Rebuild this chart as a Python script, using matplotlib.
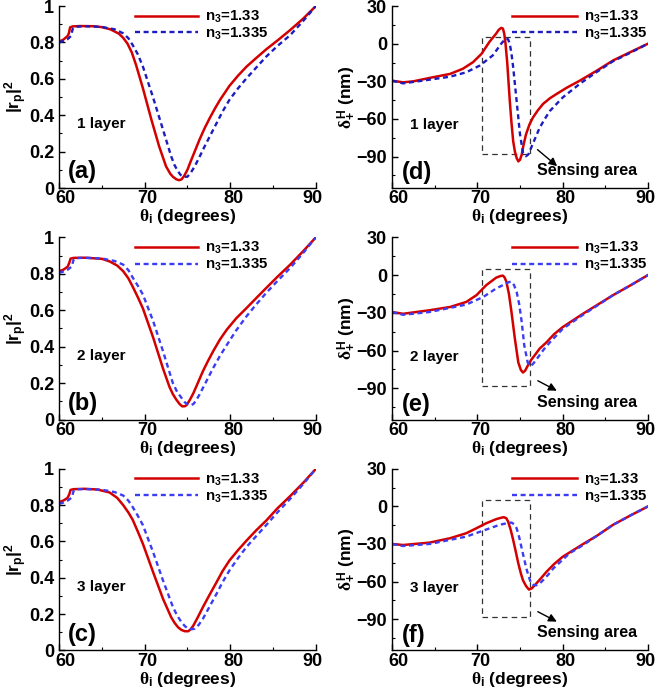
import matplotlib
matplotlib.use("Agg")
import matplotlib.pyplot as plt
from matplotlib.patches import Rectangle
from matplotlib.ticker import MultipleLocator, FuncFormatter
from matplotlib.transforms import ScaledTranslation

plt.rcParams['font.family'] = ['Liberation Sans', 'DejaVu Sans']
plt.rcParams['font.weight'] = 'bold'
plt.rcParams['mathtext.fontset'] = 'custom'
plt.rcParams['mathtext.rm'] = 'Liberation Sans:bold'
plt.rcParams['mathtext.bf'] = 'Liberation Sans:bold'
plt.rcParams['mathtext.it'] = 'Liberation Serif'
plt.rcParams['lines.scale_dashes'] = False

# ---------------- data ----------------
# Reflectivity |r_p|^2, n3 = 1.33 (red) and n3 = 1.335 (blue)
a_red_x = [60, 60.5, 61.0, 61.15, 61.3, 61.6, 62.5, 64, 65, 66, 67, 67.5, 68, 68.5, 69, 69.8, 70.8,
           71.7, 72.5, 73.0, 73.3, 73.7, 74.0, 74.3, 74.6, 75.0, 75.3, 75.8, 76.4, 77.0, 77.6, 78.2,
           78.8, 79.9, 80.9, 81.9, 83.0, 84.2, 85.5, 87.0, 88.5, 90]
a_red_y = [0.804, 0.815, 0.835, 0.85, 0.883, 0.888, 0.89, 0.889, 0.884, 0.872, 0.848, 0.825, 0.793,
           0.745, 0.676, 0.548, 0.374, 0.228, 0.119, 0.078, 0.062, 0.048, 0.043, 0.047, 0.065, 0.10,
           0.137, 0.195, 0.265, 0.328, 0.384, 0.436, 0.484, 0.561, 0.617, 0.667, 0.713, 0.762, 0.81,
           0.868, 0.93, 1.0]
a_blue_x = [60, 60.5, 61.0, 61.4, 61.6, 61.9, 63, 65, 66.5, 67.5, 68.1, 68.6, 69.2, 69.8, 70.95,
            72.15, 73.1, 73.5, 73.9, 74.2, 74.5, 75.0, 75.4, 75.85, 76.4, 77.0, 77.7, 78.4, 79.1,
            79.9, 80.9, 81.9, 83.0, 84.2, 85.5, 87.0, 88.5, 90]
a_blue_y = [0.800, 0.808, 0.818, 0.835, 0.875, 0.886, 0.889, 0.885, 0.872, 0.85, 0.823, 0.786, 0.735,
            0.667, 0.503, 0.32, 0.174, 0.125, 0.091, 0.072, 0.062, 0.062, 0.085, 0.119, 0.17, 0.228,
            0.292, 0.356, 0.42, 0.484, 0.547, 0.603, 0.66, 0.722, 0.78, 0.84, 0.917, 1.0]

b_red_x = [60, 60.5, 61.0, 61.2, 61.35, 61.7, 63, 65, 65.9, 66.8, 67.5, 68.1, 68.6, 69.2, 69.8,
           71.0, 72.15, 72.9, 73.3, 73.7, 74.1, 74.4, 74.7, 74.9, 75.3, 75.7, 76.2, 76.8, 77.4, 78.0,
           78.8, 79.6, 80.7, 81.9, 83.0, 84.2, 85.5, 87.0, 88.5, 90]
b_red_y = [0.814, 0.822, 0.838, 0.86, 0.883, 0.887, 0.888, 0.882, 0.868, 0.845, 0.814, 0.775, 0.73,
           0.672, 0.61, 0.45, 0.28, 0.18, 0.14, 0.11, 0.085, 0.073, 0.074, 0.08, 0.11, 0.146, 0.2,
           0.265, 0.322, 0.375, 0.44, 0.494, 0.556, 0.612, 0.665, 0.722, 0.783, 0.85, 0.923, 1.0]
b_blue_x = [60, 60.5, 61.0, 61.5, 61.7, 62, 63, 65, 66.5, 67.5, 68.1, 68.6, 69.2, 69.8, 71.0, 72.15,
            73.3, 73.8, 74.3, 74.7, 75.1, 75.4, 75.7, 76.0, 76.4, 77.2, 78.0, 78.8, 79.6, 80.7, 81.9,
            83.0, 84.2, 85.5, 87.0, 88.5, 90]
b_blue_y = [0.805, 0.812, 0.822, 0.84, 0.877, 0.886, 0.888, 0.884, 0.87, 0.85, 0.82, 0.78, 0.735,
            0.686, 0.54, 0.375, 0.20, 0.152, 0.12, 0.095, 0.082, 0.08, 0.086, 0.105, 0.137, 0.21,
            0.283, 0.35, 0.41, 0.49, 0.567, 0.63, 0.695, 0.76, 0.832, 0.913, 1.0]

c_red_x = [60, 60.5, 61.0, 61.2, 61.35, 61.7, 63, 64.5, 65.9, 66.8, 67.5, 68.1, 68.6, 69.2, 69.8,
           71.0, 72.15, 73.1, 73.5, 73.9, 74.3, 74.7, 75.1, 75.4, 75.7, 76.2, 76.8, 77.6, 78.4, 79.1,
           79.9, 80.9, 81.9, 83.0, 84.2, 85.5, 87.0, 88.5, 90]
c_red_y = [0.817, 0.825, 0.84, 0.86, 0.884, 0.888, 0.89, 0.886, 0.87, 0.84, 0.80, 0.76, 0.72, 0.655,
           0.587, 0.43, 0.284, 0.183, 0.152, 0.128, 0.113, 0.106, 0.106, 0.118, 0.138, 0.182, 0.238,
           0.308, 0.376, 0.437, 0.495, 0.552, 0.605, 0.66, 0.715, 0.782, 0.85, 0.922, 1.0]
c_blue_x = [60, 60.5, 61.0, 61.5, 61.7, 62, 63, 65, 66.5, 67.5, 68.1, 68.6, 69.2, 69.8, 71.0, 72.15,
            73.3, 73.8, 74.3, 74.7, 75.1, 75.5, 75.85, 76.3, 76.8, 77.6, 78.4, 79.1, 79.9, 80.9,
            81.9, 83.0, 84.2, 85.5, 87.0, 88.5, 90]
c_blue_y = [0.807, 0.814, 0.825, 0.842, 0.878, 0.887, 0.889, 0.885, 0.872, 0.853, 0.825, 0.79, 0.742,
            0.69, 0.54, 0.385, 0.24, 0.192, 0.156, 0.134, 0.12, 0.117, 0.12, 0.14, 0.174, 0.243,
            0.312, 0.376, 0.44, 0.508, 0.57, 0.628, 0.69, 0.76, 0.835, 0.915, 1.0]

# Spin Hall shift delta_+^H (nm)
d_red_x = [60, 61.3, 62.5, 64.4, 66.8, 68.3, 69.5, 70.5, 71.4, 72.2, 72.5, 72.8, 73.0, 73.15, 73.3,
           73.5, 73.8, 74.0, 74.2, 74.4, 74.6, 74.8, 75.0, 75.2, 75.4, 75.7, 76.1, 76.5, 77.1, 77.7,
           78.5, 79.3, 80.5, 82.0, 84.0, 85.9, 88.0, 90]
d_red_y = [-29.5, -30.8, -30, -27.3, -24.1, -20, -14.7, -8, 1.3, 8, 11, 12.6, 12, 8, 0, -15, -45.5,
           -63, -77.7, -86, -91, -93.8, -92.5, -88.4, -81, -72.3, -64.5, -59, -53, -48, -43.5, -40,
           -35, -29.5, -21.5, -13.4, -6.5, 0]
d_blue_x = [60, 61.3, 64.4, 66.8, 68.7, 70.3, 71.8, 72.8, 73.3, 73.6, 73.8, 74.0, 74.2, 74.6, 75.0,
            75.35, 75.7, 76.0, 76.3, 76.8, 77.3, 77.9, 78.5, 80.0, 82.0, 84.0, 85.9, 88.0, 90]
d_blue_y = [-29.5, -31.6, -28.7, -26.3, -22.8, -17.4, -9.4, 0, 4, 3.5, 0, -8, -18.8, -45.5, -72.3,
            -87, -89.7, -88, -83, -75, -67, -60, -53.6, -42.9, -32, -22.5, -14, -7, 0]

e_red_x = [60, 61.3, 64.4, 66.8, 68.7, 69.9, 71.05, 72.2, 72.7, 73.0, 73.2, 73.4, 73.7, 74.0, 74.4,
           74.8, 75.1, 75.35, 75.6, 75.9, 76.3, 76.7, 77.3, 78.1, 79.0, 80.0, 82.4, 84.0, 85.9, 88.0,
           90]
e_red_y = [-29.4, -30.8, -28, -25.4, -21.4, -16, -8, -2.1, -0.8, -0.5, -2, -5.3, -15, -29.4, -50.8,
           -69.5, -75.5, -77.5, -76, -72.2, -67.5, -64, -58.5, -53.5, -47, -41.4, -30.7, -24, -16,
           -8, 0]
e_blue_x = [60, 61.3, 64.4, 68.7, 70.7, 72.2, 73.4, 73.7, 74.0, 74.3, 74.6, 74.9, 75.2, 75.5, 75.9,
            76.1, 76.3, 76.6, 77.1, 77.8, 78.5, 80.0, 82.4, 84.0, 85.9, 88.0, 90]
e_blue_y = [-29.4, -31.6, -29.4, -23.5, -17.4, -10.7, -6.7, -5.6, -5.3, -8, -13.4, -23, -37.4, -56,
            -69.5, -71.8, -72.2, -70, -65.5, -59, -53.5, -42.8, -31.5, -24.5, -16, -8, 0]

f_red_x = [60, 61.3, 64.4, 66.8, 68.7, 69.9, 71.05, 72.2, 72.7, 73.1, 73.4, 73.6, 73.9, 74.2, 74.5,
           74.8, 75.1, 75.35, 75.7, 76.05, 76.4, 76.9, 77.5, 78.1, 79.0, 80.0, 82.4, 84.0, 85.9,
           88.0, 90]
f_red_y = [-30, -30.8, -28.9, -25.4, -21.4, -17.4, -13.4, -10.2, -9.2, -8.6, -9.5, -12, -18.5, -26.8,
           -36, -45.5, -53.5, -59, -63.5, -66.4, -65.3, -61.6, -57, -52.2, -46, -40.2, -30, -23.5,
           -14.7, -7, 0]
f_blue_x = [60, 61.3, 64.4, 68.7, 70.7, 72.6, 73.6, 74.0, 74.3, 74.6, 74.9, 75.2, 75.5, 75.8, 76.1,
            76.3, 76.6, 76.9, 77.3, 77.7, 78.3, 78.9, 80.8, 82.4, 84.0, 85.9, 88.0, 90]
f_blue_y = [-30, -31.6, -30, -24.1, -19.3, -14.7, -13.2, -12.9, -14.2, -17.4, -24.5, -33.5, -42.5,
            -50.9, -57.5, -61.6, -62.8, -63, -61.5, -58.9, -54.5, -49.5, -37.5, -30.8, -23.5, -14.7,
            -7, 0]

legend_labels = [r'n$_\mathbf{3}$=1.33', r'n$_\mathbf{3}$=1.335']
layer_labels = ['1 layer', '2 layer', '3 layer']
left_tags = ['(a)', '(b)', '(c)']
right_tags = ['(d)', '(e)', '(f)']
left_yticks = [0, 0.2, 0.4, 0.6, 0.8, 1.0]
right_yticks = [-90, -60, -30, 0, 30]
xticks = [60, 70, 80, 90]
box_x = (70.6, 76.2)
box_y = (-88, 5)

left_data = [(a_red_x, a_red_y, a_blue_x, a_blue_y),
             (b_red_x, b_red_y, b_blue_x, b_blue_y),
             (c_red_x, c_red_y, c_blue_x, c_blue_y)]
right_data = [(d_red_x, d_red_y, d_blue_x, d_blue_y),
              (e_red_x, e_red_y, e_blue_x, e_blue_y),
              (f_red_x, f_red_y, f_blue_x, f_blue_y)]
blue_colors = ['#1c1cc0', '#3c3cf5', '#3c3cf5']
arrow_heads = [-99, -93, -93]

RED = '#d40000'
TICK_FS = 13

fig = plt.figure(figsize=(6.57, 6.92), dpi=100)
rows = [(0.7283, 0.263), (0.3935, 0.2636), (0.0600, 0.2625)]
lefts = [(0.0898, 0.391), (0.5967, 0.3896)]
# horizontal nudges (pixels) of the x tick labels, as in the reference
x_label_nudge = [6, 3, 3, -3]


def fmt(v, pos):
    return ('%g' % v)


def style(ax):
    for s in ['top', 'right']:
        ax.spines[s].set_visible(False)
    for s in ['left', 'bottom']:
        ax.spines[s].set_linewidth(1.0)
    ax.tick_params(which='major', direction='in', length=4, width=1, labelsize=TICK_FS)
    ax.tick_params(axis='x', which='major', pad=1.5)
    ax.tick_params(axis='y', which='major', pad=3.5)
    ax.tick_params(which='minor', direction='in', length=2.5, width=0.8)
    ax.set_xlim(60, 90)
    ax.set_xticks(xticks)
    ax.xaxis.set_minor_locator(MultipleLocator(5))
    for lab in ax.get_xticklabels() + ax.get_yticklabels():
        lab.set_fontweight('bold')
    for tk, dx in zip(ax.xaxis.get_major_ticks(), x_label_nudge):
        tk.label1.set_transform(tk.label1.get_transform() +
                                ScaledTranslation(dx / 100.0, 0, fig.dpi_scale_trans))
    ax.set_xlabel(r'$\theta_{\mathbf{i}}$ (degrees)', fontsize=12.5, fontweight='bold', labelpad=0)


for i in range(3):
    bottom, height = rows[i]
    # left column
    ax = fig.add_axes([lefts[0][0], bottom, lefts[0][1], height])
    rx, ry, bx, by = left_data[i]
    ax.plot(rx, ry, color=RED, lw=1.8, label=legend_labels[0])
    ax.plot(bx, by, color=blue_colors[i], lw=1.7, dashes=(3.6, 2.6), label=legend_labels[1])
    ax.set_ylim(0, 1)
    ax.set_yticks(left_yticks)
    ax.yaxis.set_minor_locator(MultipleLocator(0.1))
    ax.yaxis.set_major_formatter(FuncFormatter(fmt))
    style(ax)
    ax.set_ylabel(r'$\mathbf{|r_p|^2}$', fontsize=12.5, labelpad=0)
    ax.text(62.1, 0.35, layer_labels[i], fontsize=11, fontweight='bold', va='center')
    ax.text(61.0, 0.09, left_tags[i], fontsize=17, fontweight='bold', va='center')
    ax.legend(loc='upper left', bbox_to_anchor=(0.297, 0.985), frameon=False, fontsize=10.8,
              handlelength=4.15, handletextpad=0.5, labelspacing=0.05, borderpad=0,
              borderaxespad=0)

    # right column
    ax = fig.add_axes([lefts[1][0], bottom, lefts[1][1], height])
    rx, ry, bx, by = right_data[i]
    ax.plot(rx, ry, color=RED, lw=1.8, label=legend_labels[0])
    ax.plot(bx, by, color=blue_colors[i], lw=1.7, dashes=(3.6, 2.6), label=legend_labels[1])
    ax.set_ylim(-115, 30)
    ax.set_yticks(right_yticks)
    ax.yaxis.set_minor_locator(MultipleLocator(15))
    style(ax)
    ax.set_ylabel(r'$\delta_{\mathbf{+}}^{\mathbf{H}}$ (nm)', fontsize=12.5, fontweight='bold', labelpad=0)
    ax.add_patch(Rectangle((box_x[0], box_y[0]), box_x[1] - box_x[0], box_y[1] - box_y[0],
                           fill=False, ec='#333333', lw=0.9, ls=(0, (4, 3)), zorder=1))
    ax.annotate('', xy=(79.6, arrow_heads[i]), xytext=(76.8, -83),
                arrowprops=dict(arrowstyle='-|>', color='black', lw=1.0, mutation_scale=12))
    ax.text(77.0, -101, 'Sensing area', fontsize=11.5, fontweight='bold', va='center')
    ax.text(62.1, -65, layer_labels[i], fontsize=11, fontweight='bold', va='center')
    ax.text(61.1, -103, right_tags[i], fontsize=17, fontweight='bold', va='center')
    ax.legend(loc='upper left', bbox_to_anchor=(0.47, 0.985), frameon=False, fontsize=10.8,
              handlelength=4.3, handletextpad=0.5, labelspacing=0.05, borderpad=0,
              borderaxespad=0)

fig.savefig('out.png', dpi=100)
